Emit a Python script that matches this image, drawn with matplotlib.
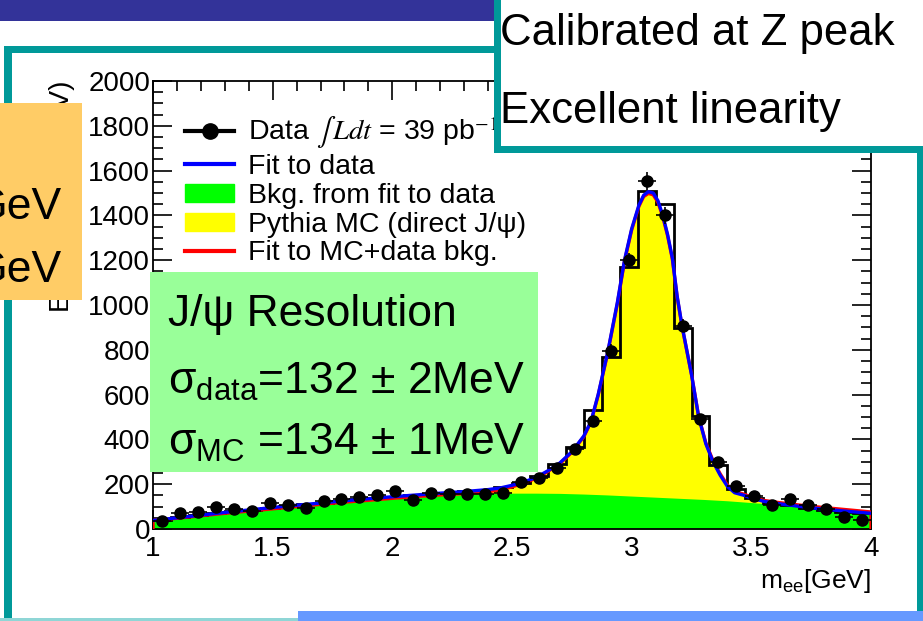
import numpy as np
import matplotlib.pyplot as plt
from matplotlib.patches import Rectangle, Patch
from matplotlib.lines import Line2D
from matplotlib.ticker import MultipleLocator, FixedLocator, FixedFormatter

plt.rcParams['font.family'] = ['Liberation Sans', 'DejaVu Sans']
plt.rcParams['mathtext.fontset'] = 'custom'
plt.rcParams['mathtext.rm'] = 'Liberation Sans'
plt.rcParams['mathtext.it'] = 'Liberation Sans:italic'
plt.rcParams['mathtext.bf'] = 'Liberation Sans:bold'

# binning of data and MC histograms (0.075 GeV bins)
edges = np.linspace(1.0, 4.0, 41)
centers = 0.5 * (edges[:-1] + edges[1:])

data_counts = [36, 70, 77, 96, 88, 82, 115, 108, 92, 123,
               136, 144, 151, 170, 130, 160, 155, 157, 156, 160,
               211, 226, 273, 358, 483, 796, 1199, 1553, 1400, 908,
               493, 300, 194, 148, 105, 136, 108, 89, 52, 40]

mc_stack = [42, 52, 61, 70, 79, 87, 95, 102, 110, 117,
            125, 132, 138, 145, 151, 157, 162, 168, 175, 186,
            205, 235, 292, 365, 532, 768, 1168, 1508, 1450, 899,
            503, 285, 180, 140, 118, 105, 95, 87, 78, 70]

# fit to data (blue)
fit_m = [1.0, 1.1, 1.2, 1.3, 1.4, 1.5, 1.6, 1.7, 1.8, 1.9, 2.0, 2.1, 2.2, 2.3,
         2.4, 2.45, 2.5, 2.55, 2.6, 2.65, 2.7, 2.75, 2.8, 2.83, 2.86, 2.9,
         2.94, 2.97, 3.0, 3.03, 3.05, 3.07, 3.09, 3.11, 3.13, 3.15, 3.17,
         3.19, 3.21, 3.23, 3.25, 3.28, 3.31, 3.34, 3.37, 3.40, 3.43, 3.47,
         3.5, 3.55, 3.6, 3.7, 3.8, 3.9, 4.0]
fit_data = [38, 50, 62, 74, 85, 96, 106, 116, 126, 135, 144, 152, 160, 167,
            176, 183, 195, 210, 230, 260, 295, 345, 415, 480, 600, 790,
            1010, 1200, 1340, 1445, 1490, 1506, 1500, 1465, 1400, 1315, 1210,
            1040, 910, 800, 690, 500, 380, 300, 240, 190, 162, 150,
            138, 124, 115, 101, 89, 79, 70]

# fit to MC + data background (red), closed down to zero at both ends
fit_mc_m = [1.0] + fit_m + [4.0]
fit_mc = [0, 38, 48, 59, 70, 80, 90, 100, 110, 120, 128, 137, 145, 152, 158,
          166, 175, 188, 205, 226, 257, 292, 342, 412, 478, 597, 786,
          1005, 1195, 1335, 1440, 1484, 1498, 1492, 1458, 1394, 1310, 1205,
          1036, 907, 798, 690, 502, 384, 305, 246, 196, 168, 155,
          143, 128, 120, 107, 96, 86, 76, 0]

# background shape from fit to data (green)
bkg_m = [1.0, 1.1, 1.2, 1.3, 1.4, 1.5, 1.6, 1.7, 1.8, 1.9, 2.0, 2.1, 2.2,
         2.3, 2.4, 2.5, 2.6, 2.7, 2.8, 2.9, 3.0, 3.1, 3.2, 3.3, 3.4, 3.5,
         3.6, 3.7, 3.8, 3.9, 4.0]
bkg = [36, 46, 57, 68, 78, 88, 98, 108, 117, 125, 134, 142, 149,
       154, 158, 160, 160, 159, 156, 152, 147, 142, 137, 132, 126, 118,
       110, 101, 90, 81, 70]

xtick_vals = [1, 1.5, 2, 2.5, 3, 3.5, 4]
xtick_text = ['1', '1.5', '2', '2.5', '3', '3.5', '4']
ytick_vals = list(range(0, 2001, 200))

legend_labels = ['Data $\\int\\,\\mathit{Ldt}$ = 39 pb$^{-1}$',
                 'Fit to data',
                 'Bkg. from fit to data',
                 'Pythia MC (direct J/\u03c8)',
                 'Fit to MC+data bkg.']

W, H = 923, 621
fig = plt.figure(figsize=(W / 100, H / 100), dpi=100)
ax = fig.add_axes([153 / W, 1 - 529 / H, 718 / W, 448 / H])

ax.fill_between(fit_mc_m, fit_mc, color='#ffff00', lw=0, zorder=1)
ax.fill_between(bkg_m, bkg, color='#00ff00', lw=0, zorder=2)
ax.stairs(mc_stack, edges, baseline=None, color='black', lw=2, zorder=3)
ax.plot(fit_mc_m, fit_mc, color='#ff0000', lw=2.4, zorder=4)
ax.plot(fit_m, fit_data, color='#0000ff', lw=2.4, zorder=5)
ax.errorbar(centers, data_counts, xerr=0.0375, yerr=np.sqrt(data_counts),
            fmt='o', color='black', ms=8, elinewidth=1.2, capsize=0, zorder=6)

ax.set_xlim(1, 4)
ax.set_ylim(0, 2000)
ax.xaxis.set_major_locator(FixedLocator(xtick_vals))
ax.xaxis.set_major_formatter(FixedFormatter(xtick_text))
ax.xaxis.set_minor_locator(MultipleLocator(0.1))
ax.yaxis.set_major_locator(FixedLocator(ytick_vals))
ax.yaxis.set_minor_locator(MultipleLocator(50))
ax.tick_params(which='both', direction='in', top=True, right=True, width=1.2)
ax.tick_params(which='major', length=14)
ax.tick_params(which='minor', length=7)
ax.tick_params(axis='x', labelsize=20, pad=5)
ax.tick_params(axis='y', labelsize=20, pad=2)
for s in ax.spines.values():
    s.set_linewidth(1.3)

ax.set_xlabel('$\\mathrm{m_{ee}}$[GeV]', fontsize=19, ha='right')
ax.xaxis.set_label_coords(1.0, -0.085)

handles = [Line2D([], [], color='black', lw=3, marker='o', ms=11),
           Line2D([], [], color='#0000ff', lw=3),
           Patch(color='#00ff00'),
           Patch(color='#ffff00'),
           Line2D([], [], color='#ff0000', lw=3)]
leg = ax.legend(handles, legend_labels, loc='upper left',
                bbox_to_anchor=(0.045, 0.925), frameon=False, fontsize=20.5,
                handlelength=1.7, handleheight=0.6, handletextpad=0.5,
                labelspacing=0.1, borderpad=0, borderaxespad=0)
leg.get_texts()[0].set_math_fontfamily('stix')
leg.set_zorder(7)


def box(x0, y0, x1, y1, color, z=2):
    fig.add_artist(Rectangle((x0 / W, 1 - y1 / H), (x1 - x0) / W, (y1 - y0) / H,
                             transform=fig.transFigure, color=color, lw=0,
                             zorder=z))


def label(x, y, s, size, ha='left', z=4):
    fig.text(x / W, 1 - y / H, s, fontsize=size, ha=ha, va='baseline',
             zorder=z)


teal = '#009999'

# slide frame around the plot
box(0, 0, 494, 21, '#333399')
box(4, 46, 12, 621, teal)
box(4, 46, 494, 53, teal)
box(917, 150, 923, 621, teal)
box(0, 618, 298, 621, '#8fd6d6')
box(298, 611, 923, 621, '#6699ff')

# top-right note
box(494, 0, 923, 153, teal)
box(501, 0, 923, 146, 'white')
label(500, 45, 'Calibrated at Z peak', 31.5)
label(500, 123, 'Excellent linearity', 31.5)

# y title, partly covered by the side note
fig.text(62 / W, 1 - 196 / H, 'Entries / ( 75 MeV)', fontsize=20,
         rotation=90, ha='center', va='center', zorder=1)

# side note on the left
box(0, 103, 82, 300, '#ffcc66', z=2)
label(62, 219, 'GeV', 32, ha='right')
label(62, 282, 'GeV', 32, ha='right')

# resolution summary
box(150, 272, 538, 472, '#99ff99', z=2)
label(168, 326, 'J/\u03c8 Resolution', 32)
label(168, 394, '$\\mathrm{\u03c3_{data}}$=132 \u00b1 2MeV', 32)
label(168, 455, '$\\mathrm{\u03c3_{MC}}$ =134 \u00b1 1MeV', 32)

fig.savefig('out.png', dpi=100)
